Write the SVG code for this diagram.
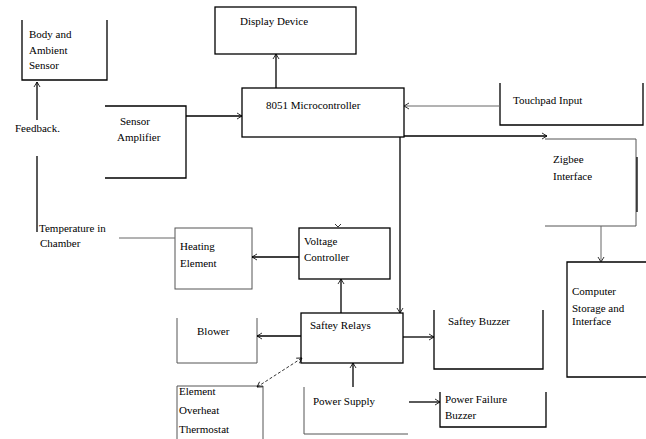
<svg xmlns="http://www.w3.org/2000/svg" width="646" height="439" viewBox="0 0 646 439">
<defs>
<marker id="arr" markerWidth="8" markerHeight="8" refX="6" refY="4" orient="auto" markerUnits="userSpaceOnUse">
<path d="M1,1 L6,4 L1,7" fill="none" stroke="#000" stroke-width="0.8"/>
</marker>
<marker id="arrs" markerWidth="8" markerHeight="8" refX="2" refY="4" orient="auto" markerUnits="userSpaceOnUse">
<path d="M7,1 L2,4 L7,7" fill="none" stroke="#000" stroke-width="0.8"/>
</marker>
</defs>
<style>
.b{fill:none;stroke:#000;stroke-width:1.3}
.g{fill:none;stroke:#555;stroke-width:1}
.c{fill:none;stroke:#000;stroke-width:1.3}
.cg{fill:none;stroke:#666;stroke-width:1}
.t{font-family:'Liberation Serif','DejaVu Serif',serif;font-size:11px;fill:#000}
</style>
<rect width="646" height="439" fill="#fff"/>

<g class="t">
<g id="body-sensor">
<path class="b" d="M22,20 V80 H107 V20"/>
<text x="29" y="38">Body and</text>
<text x="29" y="54">Ambient</text>
<text x="29" y="69">Sensor</text>
</g>

<g id="feedback">
<text x="15" y="132">Feedback.</text>
</g>

<g id="temperature">
<text x="39" y="232">Temperature in</text>
<text x="40" y="247">Chamber</text>
</g>

<g id="sensor-amp">
<path class="b" d="M105,106 H186 V178 H105"/>
<text x="120" y="125">Sensor</text>
<text x="117" y="141">Amplifier</text>
</g>

<g id="display">
<rect class="b" x="215" y="7" width="141" height="47"/>
<text x="240" y="25">Display Device</text>
</g>

<g id="mcu">
<rect class="b" x="242" y="88" width="162" height="49"/>
<text x="266" y="109">8051 Microcontroller</text>
</g>

<g id="touchpad">
<path class="b" d="M500,83 V125 H643 V83"/>
<text x="513" y="104">Touchpad Input</text>
</g>

<g id="zigbee">
<path class="g" d="M545,139 H636 V226 H545"/>
<path class="b" d="M637,157 V212"/>
<text x="553" y="163">Zigbee</text>
<text x="553" y="180">Interface</text>
</g>

<g id="computer">
<path class="b" d="M646,262 H567 V377 H646"/>
<text x="572" y="295">Computer</text>
<text x="572" y="312">Storage and</text>
<text x="572" y="325">Interface</text>
</g>

<g id="heating">
<rect class="g" x="175" y="228" width="77" height="61"/>
<text x="180" y="250">Heating</text>
<text x="180" y="267">Element</text>
</g>

<g id="voltage">
<rect class="b" x="299" y="228" width="91" height="51"/>
<text x="304" y="245">Voltage</text>
<text x="304" y="261">Controller</text>
</g>

<g id="blower">
<path class="g" d="M177,318 V363 H257 V318"/>
<text x="197" y="335">Blower</text>
</g>

<g id="relays">
<rect class="b" x="301" y="313" width="102" height="50"/>
<text x="310" y="329">Saftey Relays</text>
</g>

<g id="safety-buzzer">
<path class="b" d="M434,310 V369 H543 V310"/>
<text x="448" y="325">Saftey Buzzer</text>
</g>

<g id="thermostat">
<path class="g" d="M177,439 V386 H263 V439"/>
<text x="179" y="395">Element</text>
<text x="179" y="414">Overheat</text>
<text x="179" y="433">Thermostat</text>
</g>

<g id="power-supply">
<path class="g" d="M304,387 V434 H408"/>
<text x="313" y="405">Power Supply</text>
</g>

<g id="power-failure">
<path class="b" d="M440,392 V427 H546 V392"/>
<text x="445" y="403">Power Failure</text>
<text x="445" y="419">Buzzer</text>
</g>
</g>

<g id="connectors">
<path class="c" d="M37,120 V82" marker-end="url(#arr)"/>
<path class="c" d="M37,156 V232"/>
<path class="cg" d="M119,238 H175"/>
<path class="c" d="M186,116 H242" marker-end="url(#arr)"/>
<path class="c" d="M276,88 V54" marker-end="url(#arr)"/>
<path class="cg" d="M500,106 H404" marker-end="url(#arr)"/>
<path class="c" d="M404,136 H547" marker-end="url(#arr)"/>
<path class="c" d="M400,137 V313" marker-end="url(#arr)"/>
<path class="cg" d="M601,226 V262" marker-end="url(#arr)"/>
<path class="c" d="M341,313 V279" marker-end="url(#arr)"/>
<path d="M335,224 L338,227 L341,224" fill="none" stroke="#000" stroke-width="0.8"/>
<path class="c" d="M299,257 H252" marker-end="url(#arr)"/>
<path class="c" d="M301,336 H257" marker-end="url(#arr)"/>
<path class="c" d="M403,337 H434" marker-end="url(#arr)"/>
<path class="c" d="M353,387 V363" marker-end="url(#arr)"/>
<path class="c" d="M409,402 H440" marker-end="url(#arr)"/>
<path fill="none" stroke="#000" stroke-width="0.8" stroke-dasharray="3,2" d="M257,387 L302,358" marker-start="url(#arrs)" marker-end="url(#arr)"/>
</g>
</svg>
